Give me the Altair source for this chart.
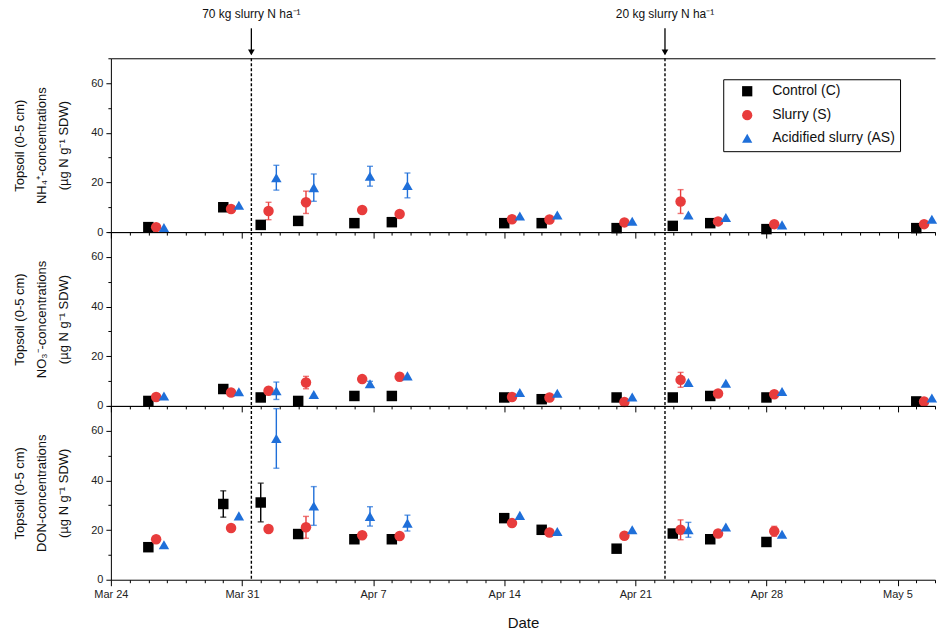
import altair as alt
import pandas as pd

# ---------------- data ----------------
dates = ["2019-03-26", "2019-03-30", "2019-04-01", "2019-04-03", "2019-04-06",
         "2019-04-08", "2019-04-14", "2019-04-16", "2019-04-20", "2019-04-23",
         "2019-04-25", "2019-04-28", "2019-05-06"]
treatments = ["Control (C)", "Slurry (S)", "Acidified slurry (AS)"]

nh4_c = [2.0, 10.0, 2.9, 4.5, 3.6, 4.0, 3.6, 3.6, 1.6, 2.5, 3.6, 1.2, 1.6]
nh4_s = [2.0, 9.3, 8.5, 12.0, 8.9, 7.3, 5.2, 5.1, 3.9, 12.3, 4.3, 3.2, 3.2]
nh4_as = [1.8, 10.8, 21.9, 17.9, 22.5, 18.8, 6.5, 6.9, 4.4, 6.9, 5.9, 2.9, 5.2]
nh4_c_err = [0, 0, 0, 0, 0, 0, 0, 0, 0, 0, 0, 0, 0]
nh4_s_err = [0, 0, 3.5, 4.5, 0, 0, 0, 0, 0, 4.8, 0, 0, 0]
nh4_as_err = [0, 0, 5.0, 5.5, 4.0, 5.0, 0, 0, 0, 0, 0, 0, 0]

no3_c = [2.0, 6.8, 3.4, 2.0, 4.0, 4.0, 3.4, 2.7, 3.4, 3.4, 4.0, 3.4, 1.8]
no3_s = [3.6, 5.4, 6.1, 9.4, 10.8, 11.7, 3.6, 3.4, 1.6, 10.5, 5.0, 4.7, 1.8]
no3_as = [4.0, 5.7, 6.1, 4.6, 8.9, 12.1, 5.4, 5.1, 3.6, 9.4, 9.1, 5.8, 3.2]
no3_c_err = [0, 0, 1.5, 0, 0, 0, 0, 0, 0, 0, 0, 0, 0]
no3_s_err = [0, 0, 0, 2.5, 1.0, 1.5, 0, 0, 0, 3.0, 0, 0, 0]
no3_as_err = [0, 0, 3.5, 0, 1.0, 0, 0, 0, 0, 0, 0, 0, 0]

don_c = [13.1, 30.5, 31.1, 18.4, 16.3, 16.3, 24.8, 20.1, 12.5, 18.6, 16.3, 15.2, None]
don_s = [16.3, 20.8, 20.4, 21.1, 17.9, 17.6, 22.8, 19.0, 17.7, 20.1, 18.6, 19.5, None]
don_as = [14.1, 25.7, 56.9, 29.7, 25.5, 22.8, 25.9, 19.4, 20.1, 20.1, 21.2, 18.3, None]
don_c_err = [0, 5.3, 7.8, 0, 0, 0, 0, 0, 0, 0, 0, 0, 0]
don_s_err = [0, 0, 0, 4.4, 0, 0, 0, 0, 0, 4.0, 0, 2.0, 0]
don_as_err = [0, 0, 12.0, 7.8, 3.9, 3.2, 0, 0, 0, 3.0, 0, 0, 0]

app_dates = ["2019-03-31T12:00:00", "2019-04-22T14:00:00"]
app_labels = ["70 kg slurry N ha\u207b\u00b9", "20 kg slurry N ha\u207b\u00b9"]

nh4_title = ["Topsoil (0-5 cm)", "NH\u2084\u207a-concentrations", "(\u00b5g N g\u207b\u00b9 SDW)"]
no3_title = ["Topsoil (0-5 cm)", "NO\u2083\u207b-concentrations", "(\u00b5g N g\u207b\u00b9 SDW)"]
don_title = ["Topsoil (0-5 cm)", "DON-concentrations", "(\u00b5g N g\u207b\u00b9 SDW)"]

# ---------------- style ----------------
colors = ["#000000", "#e83c3c", "#1f6fd9"]
shapes = ["square", "circle", "triangle-up"]
offset_hours = [0, 10, 20]  # horizontal dodge of the treatments
FONT = "Liberation Sans, Arial, sans-serif"
NARROW = "Liberation Sans Narrow, Liberation Sans, Arial, sans-serif"
W, H = 825, 174

panels = {
    "NH4": [(nh4_c, nh4_c_err), (nh4_s, nh4_s_err), (nh4_as, nh4_as_err)],
    "NO3": [(no3_c, no3_c_err), (no3_s, no3_s_err), (no3_as, no3_as_err)],
    "DON": [(don_c, don_c_err), (don_s, don_s_err), (don_as, don_as_err)],
}

rows = []
for pname, series in panels.items():
    for k, tr in enumerate(treatments):
        vals, errs = series[k]
        for d, v, e in zip(dates, vals, errs):
            if v is None:
                continue
            t = pd.Timestamp(d) + pd.Timedelta(hours=offset_hours[k])
            rows.append(dict(panel=pname, treatment=tr, col=colors[k],
                             t=t.strftime("%Y-%m-%dT%H:%M:%S"),
                             value=v, err=e, lo=v - e, hi=v + e))
df = pd.DataFrame(rows)
ann = pd.DataFrame({"t": app_dates, "label": app_labels})

day_vals = [alt.DateTime(year=d.year, month=d.month, date=d.day)
            for d in pd.date_range("2019-03-24", "2019-05-07", freq="D")]
xscale = alt.Scale(domain=[alt.DateTime(year=2019, month=3, date=24),
                           alt.DateTime(year=2019, month=5, date=7)])
yscale = alt.Scale(domain=[0, 70], nice=False)
cscale = alt.Scale(domain=treatments, range=colors)
sscale = alt.Scale(domain=treatments, range=shapes)

week_test = "round((datum.value - datetime(2019, 2, 24)) / 864e5) % 7 == 0"

legend = alt.Legend(orient="none", legendX=613, legendY=21, title=None,
                    strokeColor="black", fillColor="white", padding=5,
                    labelFontSize=14, labelFont=FONT, labelColor="#111",
                    symbolSize=105, symbolOpacity=1, rowPadding=6,
                    symbolOffset=12, labelOffset=18)


def make_panel(pname, title, bottom, annotate):
    d = df[df.panel == pname]
    xaxis = alt.Axis(values=day_vals,
                     labelExpr=f"{week_test} ? timeFormat(datum.value, '%b %-d') : ''",
                     tickSize={"condition": {"test": week_test, "value": 6}, "value": 3},
                     labels=bottom, title="Date" if bottom else None,
                     titleFontSize=15, titleFontWeight="normal", titlePadding=16,
                     labelFontSize=11, labelFont=NARROW, labelPadding=3,
                     grid=False, domainColor="black", tickColor="black",
                     labelOverlap=False, labelFlush=False)
    yaxis = alt.Axis(values=list(range(0, 71, 10)),
                     labelExpr="datum.value % 20 == 0 ? datum.label : ''",
                     tickSize={"condition": {"test": "datum.value % 20 == 0", "value": 5}, "value": 3},
                     title=title, titleFontSize=13, titleFontWeight="normal",
                     titleLineHeight=22, titlePadding=20, labelFontSize=11,
                     labelPadding=3, grid=False, domainColor="black", tickColor="black")
    topaxis = alt.Axis(orient="top", labels=False, ticks=False, title=None,
                       grid=False, domainColor="black")

    base = alt.Chart(d)
    xa = alt.X("t:T", scale=xscale, axis=None)

    vlines = alt.Chart(ann).mark_rule(strokeDash=[3, 2], strokeWidth=1.4, color="black").encode(
        x=alt.X("t:T", scale=xscale, axis=topaxis))
    ebars = base.transform_filter("datum.err > 0").mark_rule(strokeWidth=1.4).encode(
        x=xa, y=alt.Y("lo:Q", scale=yscale, axis=yaxis), y2="hi:Q",
        color=alt.Color("col:N", scale=None))
    caps = base.transform_filter("datum.err > 0").transform_fold(
        ["lo", "hi"], as_=["end", "yv"]).mark_tick(orient="horizontal", size=6, thickness=1.4).encode(
        x=xa, y=alt.Y("yv:Q", scale=yscale, axis=yaxis),
        color=alt.Color("col:N", scale=None))
    pts = base.mark_point(filled=True, opacity=1, size=110).encode(
        x=alt.X("t:T", scale=xscale, axis=xaxis),
        y=alt.Y("value:Q", scale=yscale, axis=yaxis),
        color=alt.Color("treatment:N", scale=cscale, legend=legend),
        shape=alt.Shape("treatment:N", scale=sscale, legend=legend))
    layers = [vlines, ebars, caps, pts]
    if annotate:
        txt = alt.Chart(ann).mark_text(fontSize=12, font=NARROW, color="#111").encode(
            x=xa, y=alt.value(-44), text="label:N")
        arrow = alt.Chart(ann).mark_rule(strokeWidth=1.3, color="black").encode(
            x=xa, y=alt.value(-30), y2=alt.value(-4))
        head = alt.Chart(ann).mark_point(shape="triangle-down", filled=True, size=45,
                                         color="black", opacity=1).encode(
            x=xa, y=alt.value(-6))
        layers += [txt, arrow, head]
    return alt.layer(*layers).resolve_axis(x="independent").properties(width=W, height=H)


chart = alt.vconcat(
    make_panel("NH4", nh4_title, False, True),
    make_panel("NO3", no3_title, False, False),
    make_panel("DON", don_title, True, False),
    spacing=0, bounds="flush",
).properties(
    padding={"left": 5, "right": 0, "top": 0, "bottom": 0}
).configure_view(stroke=None).configure_axis(
    labelColor="#222", titleColor="#111", labelFont=FONT, titleFont=FONT
).configure_legend(
    symbolOpacity=1
).configure_point(opacity=1)

chart.save("out.html", embed_options={"renderer": "svg", "actions": False})
